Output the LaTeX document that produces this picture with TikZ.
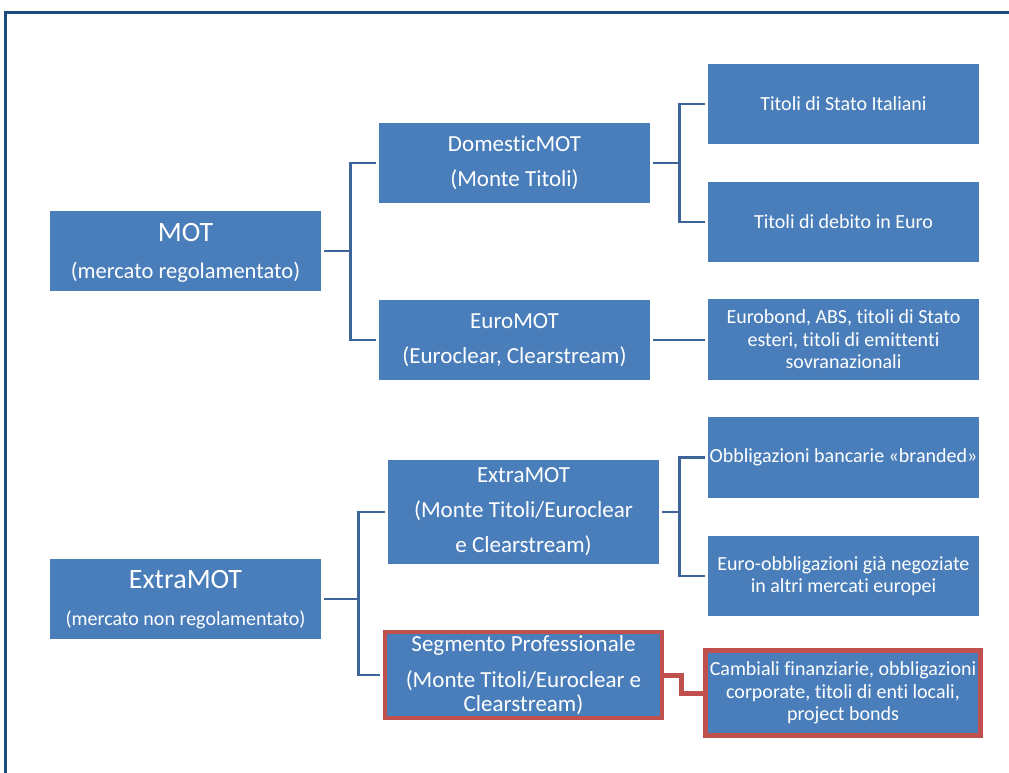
\documentclass[tikz,border=0pt]{standalone}
\usepackage{fontspec}
\setmainfont{Carlito}[Ligatures={NoCommon}]
\definecolor{boxblue}{HTML}{4A7EBB}
\definecolor{connblue}{HTML}{3C6496}
\definecolor{framebl}{HTML}{1B4B7E}
\definecolor{redb}{HTML}{C0504D}
\begin{document}
\begin{tikzpicture}[x=1pt,y=-1pt,
  box/.style={fill=boxblue,draw=none,text=white,align=center,inner sep=0pt},
  conn/.style={draw=connblue,line width=2.8pt,shorten <=3pt,shorten >=3pt},
  redconn/.style={draw=redb,line width=5pt,line join=miter},
  redbox/.style={box,draw=redb,line width=4pt},
  big/.style={font=\fontsize{28}{30}\selectfont},
  mid/.style={font=\fontsize{23}{35}\selectfont},
  leaf/.style={font=\fontsize{20}{22.5}\selectfont}]
\useasboundingbox (0,0) rectangle (1009,772);
\fill[white] (0,0) rectangle (1009,772);
\draw[framebl,line width=3pt] (5,775) -- (5,12) -- (1012,12);
% level 1
\node[box,minimum width=271pt,minimum height=80pt] (mot) at (185.5,251) {};
\node[white,big,inner sep=0pt] at (185.5,233) {MOT};
\node[white,font=\fontsize{22.5}{24}\selectfont,inner sep=0pt] at (185.5,272) {(mercato regolamentato)};
\node[box,minimum width=271pt,minimum height=80pt] (xmot) at (185.5,599) {};
\node[white,big,inner sep=0pt] at (185.5,580) {ExtraMOT};
\node[white,font=\fontsize{20}{22}\selectfont,inner sep=0pt] at (185.5,620) {(mercato non regolamentato)};
% level 2
\node[box,mid,minimum width=271pt,minimum height=80pt] (dom) at (514.5,163) {DomesticMOT\\(Monte Titoli)};
\node[box,mid,minimum width=271pt,minimum height=80pt] (euro) at (514.5,340) {EuroMOT\\(Euroclear, Clearstream)};
\node[box,mid,minimum width=271pt,minimum height=104pt] (xm) at (523.5,512) {ExtraMOT\\(Monte Titoli/Euroclear\\e Clearstream)};
\node[redbox,minimum width=277pt,minimum height=86pt,font=\fontsize{23}{24}\selectfont] (seg) at (523.5,675) {Segmento Professionale\\[12pt](Monte Titoli/Euroclear e\\Clearstream)};
% level 3
\node[box,leaf,minimum width=271pt,minimum height=80pt] (tsi) at (843.5,104) {Titoli di Stato Italiani};
\node[box,leaf,minimum width=271pt,minimum height=80pt] (tde) at (843.5,222) {Titoli di debito in Euro};
\node[box,leaf,minimum width=271pt,minimum height=81pt] (eb) at (843.5,339.5) {Eurobond, ABS, titoli di Stato\\esteri, titoli di emittenti\\sovranazionali};
\node[box,leaf,minimum width=271pt,minimum height=81pt] (ob) at (843.5,457.5) {Obbligazioni bancarie «branded»};
\node[box,leaf,minimum width=271pt,minimum height=80pt] (eo) at (843.5,576) {Euro-obbligazioni già negoziate\\in altri mercati europei};
\node[redbox,leaf,line width=5pt,minimum width=275pt,minimum height=85pt] (cam) at (843,693) {Cambiali finanziarie, obbligazioni\\corporate, titoli di enti locali,\\project bonds};
% connectors
\draw[conn] (mot.east) -- ++(29,0) coordinate (j1) |- (dom.west);
\draw[conn,shorten <=0pt] (j1) |- (euro.west);
\draw[conn] (dom.east) -- ++(29,0) coordinate (j2) |- (tsi.west);
\draw[conn,shorten <=0pt] (j2) |- (tde.west);
\draw[conn] (euro.east) -- (euro.east -| eb.west);
\draw[conn] (xmot.east) -- ++(37,0) coordinate (j3) |- (xm.west);
\draw[conn,shorten <=0pt] (j3) |- (seg.west);
\draw[conn] (xm.east) -- ++(20,0) coordinate (j4) |- (ob.west);
\draw[conn,shorten <=0pt] (j4) |- (eo.west);
\draw[redconn] (seg.east) -- ++(17,0) |- (cam.west);
\end{tikzpicture}
\end{document}
